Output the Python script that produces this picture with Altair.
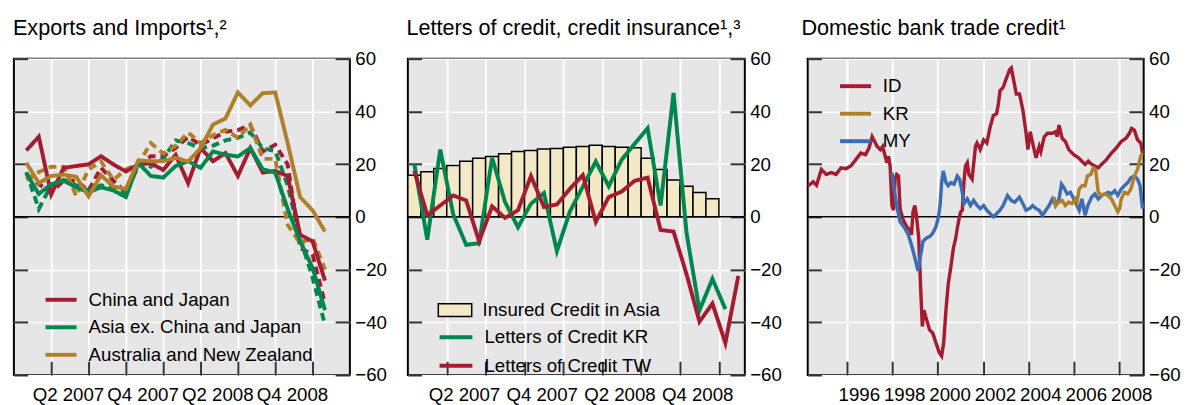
import altair as alt
import pandas as pd

FONT = "Liberation Sans"
RED, GREEN, TAN, BLUE = "#A51C30", "#00874F", "#B07F2A", "#3A6DB4"
BG = "#E6E6E6"
BAR_FILL = "#F3E9C6"
TICK = "#333333"

# ---------------- Panel 1: Exports and Imports ----------------
p1_title = "Exports and Imports¹,²"
p1_months = list(range(1, 26))  # month-end index, 1 = end of Jan 2007
p1_series = ["China and Japan", "Asia ex. China and Japan", "Australia and New Zealand"]
p1_colors = [RED, GREEN, TAN]
p1_flows = ["Imports", "Exports"]
cj_exports = [25.2, 30.4, 8.5, 18.6, 19.3, 19.9, 23.0, 19.9, 17.2, 19.9, 20.3, 17.8, 23.5,
              12.8, 26.1, 21.1, 24.2, 15.5, 26.1, 16.8, 17.4, 15.5, -6.8, -9.3, -24.2]
asia_exports = [16.5, 8.7, 12.4, 13.7, 11.2, 9.3, 11.2, 10.0, 7.5, 20.5, 15.5, 14.9, 19.3,
                21.1, 18.6, 24.8, 23.6, 22.9, 26.1, 18.0, 16.8, 3.0, -9.3, -19.3, -35.4]
anz_exports = [20.5, 12.8, 15.5, 16.0, 15.2, 7.8, 15.8, 11.5, 10.6, 21.4, 21.1, 21.1, 22.4,
               21.0, 26.0, 35.0, 37.3, 47.2, 42.3, 46.9, 47.2, 28.0, 7.5, 2.5, -5.6]
cj_imports = [16.2, 12.4, 9.3, 13.7, 13.7, 10.0, 18.6, 13.7, 9.3, 19.3, 23.0, 23.0, 26.1,
              30.4, 27.3, 29.8, 32.3, 32.9, 34.8, 24.8, 27.3, 19.9, -11.8, -14.3, -33.0]
asia_imports = [17.0, 3.0, 12.0, 14.0, 12.0, 10.0, 12.0, 11.0, 9.0, 21.0, 19.0, 22.0, 29.0,
                28.0, 26.0, 27.0, 29.0, 30.0, 32.0, 26.0, 25.0, 12.0, -8.0, -23.0, -41.0]
anz_imports = [14.0, 17.0, 19.0, 19.0, 8.0, 18.0, 21.0, 14.0, 18.0, 20.0, 28.0, 24.0, 27.0,
               32.0, 28.0, 31.0, 33.0, 30.0, 35.0, 22.0, 22.0, -3.0, -10.0, -8.0, -20.0]

# quarter ticks (months since start of 2007) and their labels
q_tick_values = [3, 6, 9, 12, 15, 18, 21, 24]
q_tick_labels = ["Q2 2007", "", "Q4 2007", "", "Q2 2008", "", "Q4 2008", ""]

# ---------------- Panel 2: Letters of credit ----------------
p2_title = "Letters of credit, credit insurance¹,³"
bar_start_month = list(range(24))
insured_credit = [15.8, 17.1, 18.3, 19.5, 21.1, 22.2, 22.9, 23.9, 24.8, 25.2, 25.7, 25.9,
                  26.4, 26.7, 27.2, 26.7, 26.4, 26.2, 22.2, 18.0, 14.0, 11.6, 9.2, 6.9]
p2_months = [0.5, 1.5, 2.5, 3.5, 4.5, 5.5, 6.5, 7.5, 8.5, 9.5, 10.5, 11.5, 12.5,
             13.5, 14.5, 15.5, 16.5, 17.5, 18.5, 19.5, 20.5, 21.5, 22.5, 23.5, 24.5, 25.5]
lc_kr = [20.0, -8.7, 25.5, 1.0, -10.6, -10.0, 22.4, 5.6, -4.0, 5.0, 9.0, -13.0, 2.0,
         11.5, 21.0, 11.6, 21.7, 27.7, 33.6, 4.3, 47.0, -6.0, -35.5, -23.5, -35.0]
lc_tw = [17.4, 0.6, 4.3, 8.1, 6.2, -9.3, 4.0, -0.4, 2.5, 15.5, 3.7, 4.7, 10.6,
         15.8, -1.9, 7.5, 9.6, 13.7, 14.9, -5.0, -5.6, -21.7, -39.8, -32.9, -47.8, -22.4]
p2_series = ["Letters of Credit KR", "Letters of Credit TW"]
bar_label = "Insured Credit in Asia"

# ---------------- Panel 3: Domestic bank trade credit ----------------
p3_title = "Domestic bank trade credit¹"
p3_series = ["ID", "KR", "MY"]
p3_colors = [RED, TAN, BLUE]
id_year = [1994.30, 1994.51, 1994.66, 1994.87, 1995.09, 1995.31, 1995.52, 1995.74, 1995.96, 1996.17,
           1996.39, 1996.61, 1996.82, 1996.97, 1997.11, 1997.33, 1997.47, 1997.57, 1997.76, 1997.83,
           1997.90, 1997.98, 1998.05, 1998.12, 1998.19, 1998.27, 1998.34, 1998.48, 1998.63, 1998.77,
           1998.84, 1998.91, 1998.99, 1999.06, 1999.16, 1999.25, 1999.32, 1999.39, 1999.49, 1999.64,
           1999.78, 1999.92, 2000.07, 2000.17, 2000.26, 2000.36, 2000.46, 2000.57, 2000.69, 2000.79,
           2000.86, 2000.94, 2001.01, 2001.08, 2001.15, 2001.22, 2001.30, 2001.37, 2001.51, 2001.66,
           2001.73, 2001.87, 2002.02, 2002.16, 2002.31, 2002.45, 2002.59, 2002.67, 2002.74, 2002.88,
           2003.03, 2003.17, 2003.24, 2003.32, 2003.46, 2003.60, 2003.75, 2003.89, 2003.97, 2004.07,
           2004.18, 2004.33, 2004.47, 2004.54, 2004.69, 2004.83, 2005.05, 2005.19, 2005.26, 2005.34,
           2005.48, 2005.62, 2005.77, 2005.99, 2006.20, 2006.35, 2006.49, 2006.63, 2006.78, 2006.92,
           2007.07, 2007.21, 2007.43, 2007.65, 2007.86, 2008.08, 2008.29, 2008.44, 2008.54, 2008.66,
           2008.80, 2008.94, 2009.02]
id_val = [11.8, 13.3, 12.0, 18.0, 16.1, 16.8, 16.1, 18.6, 18.3, 19.3,
          21.7, 24.2, 23.6, 26.1, 30.4, 26.7, 25.5, 26.7, 20.5, 23.0,
          19.3, 4.3, 2.5, 14.3, 16.1, 15.5, 3.0, -1.2, -3.7, -5.0,
          -6.8, 1.9, 4.3, 0.5, -8.0, -27.9, -41.6, -35.4, -38.5, -42.9,
          -44.1, -47.8, -51.6, -52.8, -47.8, -35.4, -25.5, -19.3, -11.8, -8.1,
          -4.3, -0.6, 1.9, 2.5, 13.0, 19.3, 20.5, 16.1, 14.3, 26.7,
          28.0, 25.5, 29.2, 28.0, 34.2, 38.5, 39.1, 42.9, 47.8, 49.1,
          52.8, 55.9, 56.5, 52.8, 46.6, 46.6, 40.4, 31.7, 25.5, 32.3,
          28.0, 22.4, 26.7, 24.8, 30.4, 31.7, 31.7, 32.3, 30.4, 34.8,
          29.8, 28.6, 25.5, 23.6, 22.4, 21.1, 19.9, 21.1, 19.9, 19.3,
          18.6, 19.9, 21.7, 24.2, 26.1, 28.6, 29.8, 31.7, 33.5, 32.9,
          29.2, 28.0, 24.2]
my_year = [1997.98, 1998.08, 1998.19, 1998.34, 1998.55, 1998.70, 1998.84, 1998.99, 1999.13, 1999.25,
           1999.35, 1999.49, 1999.64, 1999.78, 1999.92, 2000.03, 2000.10, 2000.17, 2000.24, 2000.36,
           2000.46, 2000.57, 2000.72, 2000.86, 2000.96, 2001.08, 2001.15, 2001.30, 2001.44, 2001.58,
           2001.73, 2001.87, 2002.02, 2002.16, 2002.31, 2002.45, 2002.59, 2002.74, 2002.88, 2003.07,
           2003.24, 2003.39, 2003.60, 2003.75, 2003.89, 2004.04, 2004.18, 2004.33, 2004.47, 2004.61,
           2004.76, 2004.90, 2005.05, 2005.19, 2005.34, 2005.45, 2005.55, 2005.70, 2005.84, 2005.99,
           2006.13, 2006.23, 2006.35, 2006.49, 2006.61, 2006.78, 2006.92, 2007.07, 2007.21, 2007.36,
           2007.50, 2007.65, 2007.79, 2007.93, 2008.08, 2008.22, 2008.37, 2008.51, 2008.66, 2008.80,
           2008.91, 2009.02]
my_val = [16.8, 10.6, 4.3, -1.9, -4.3, -6.8, -10.6, -15.5, -20.5, -14.3,
          -9.3, -8.1, -7.5, -6.2, -3.7, 0.0, 4.3, 13.0, 17.4, 13.0,
          11.8, 13.0, 12.4, 15.5, 14.3, 9.3, 5.0, 6.8, 4.3, 6.2,
          4.3, 3.1, 4.3, 2.5, 1.2, 0.0, 1.2, 2.5, 4.3, 8.1,
          6.2, 5.6, 7.5, 5.0, 2.5, 3.1, 4.3, 3.1, 2.5, 0.6,
          2.5, 4.3, 6.8, 4.3, 6.8, 12.4, 11.2, 8.7, 9.3, 6.8,
          4.3, 2.5, 6.8, 0.6, 4.3, 7.5, 8.7, 6.8, 8.1, 8.7,
          9.3, 8.7, 9.9, 8.1, 10.6, 11.8, 13.0, 14.9, 15.5, 14.3,
          11.8, 3.1]
kr_year = [2005.12, 2005.19, 2005.34, 2005.48, 2005.62, 2005.77, 2005.91, 2006.06, 2006.13, 2006.23,
           2006.35, 2006.49, 2006.59, 2006.74, 2006.85, 2006.95, 2007.07, 2007.21, 2007.36, 2007.50,
           2007.65, 2007.79, 2007.93, 2008.01, 2008.08, 2008.22, 2008.37, 2008.51, 2008.66, 2008.80,
           2008.94, 2009.02]
kr_val = [7.5, 4.3, 5.6, 6.2, 4.3, 5.6, 5.0, 6.8, 5.6, 10.6,
          11.8, 11.8, 15.5, 16.1, 18.6, 18.0, 9.3, 8.1, 8.7, 8.1,
          6.8, 4.3, 1.9, 3.1, 6.8, 9.3, 8.7, 10.6, 15.5, 18.0,
          23.0, 24.2]
year_ticks = [1996, 1998, 2000, 2002, 2004, 2006, 2008]

Y_VALUES = [-60, -40, -20, 0, 20, 40, 60]


def y_scale():
    return alt.Scale(domain=[-60, 60], nice=False, zero=False)


def left_axis():
    return alt.Axis(orient="left", values=Y_VALUES, offset=-14, tickSize=14, tickWidth=2,
                    tickColor=TICK, labels=False, domain=False, grid=True,
                    gridColor="white", gridWidth=1.5, title=None)


def right_axis():
    return alt.Axis(orient="right", values=Y_VALUES, offset=-15, tickSize=15, tickWidth=2,
                    tickColor=TICK, labelPadding=5, labelFontSize=19, labelFont=FONT,
                    labelColor="black", labelFlush=False, labelOverlap=False,
                    domain=False, grid=False, title=None)


def x_axis(values, label_offset, labels=None, fmt=None):
    kw = dict(values=values, offset=-14, tickSize=14, tickWidth=2, tickColor=TICK,
              domain=False, grid=True, gridColor="white", gridWidth=2,
              labelOffset=label_offset, labelPadding=11, labelFontSize=19, labelFont=FONT,
              labelColor="black", labelOverlap=False, labelFlush=False, title=None)
    if labels is not None:
        expr = "''"
        for v, lab in reversed(list(zip(values, labels))):
            expr = f"datum.value == {v} ? '{lab}' : ({expr})"
        kw["labelExpr"] = expr
    if fmt is not None:
        kw["format"] = fmt
    return alt.Axis(**kw)


def zero_layer():
    return alt.Chart(pd.DataFrame({"v": [0]})).mark_rule(color="black", strokeWidth=1.5).encode(
        y=alt.Y("v:Q", scale=y_scale(), axis=left_axis())
    )


def title(t):
    return alt.TitleParams(t, anchor="start", fontSize=22, font=FONT, fontWeight="normal",
                           color="black", offset=10)


def line_legend(x, y, size, label_offset, row_pad):
    return alt.Legend(orient="none", legendX=x, legendY=y, title=None, symbolType="stroke",
                      symbolSize=size, symbolStrokeWidth=4, labelFontSize=19, labelFont=FONT,
                      labelColor="black", labelOffset=label_offset, rowPadding=row_pad,
                      padding=0, labelLimit=0)


# ---------- build panel 1 ----------
rows = []
for flow in p1_flows:
    for name, ex, im in zip(p1_series, [cj_exports, asia_exports, anz_exports],
                            [cj_imports, asia_imports, anz_imports]):
        vals = ex if flow == "Exports" else im
        for m, v in zip(p1_months, vals):
            rows.append({"month": m, "value": v, "series": name, "flow": flow})
df_p1 = pd.DataFrame(rows)

p1_lines = alt.Chart(df_p1).mark_line(strokeWidth=4).encode(
    x=alt.X("month:Q", scale=alt.Scale(domain=[0, 27], nice=False, zero=False),
            axis=x_axis(q_tick_values, 17, q_tick_labels)),
    y=alt.Y("value:Q", scale=y_scale(), axis=right_axis()),
    color=alt.Color("series:N", scale=alt.Scale(domain=p1_series, range=p1_colors),
                    legend=line_legend(30, 227.4, 1000, 10, -2)),
    strokeDash=alt.StrokeDash("flow:N", scale=alt.Scale(domain=p1_flows, range=[[8, 5], [1, 0]]),
                              legend=None),
)
panel1 = alt.layer(zero_layer(), p1_lines).resolve_axis(y="independent").properties(
    width=342, height=322, title=title(p1_title))

# ---------- build panel 2 ----------
df_bar = pd.DataFrame({"start": bar_start_month, "value": insured_credit, "label": bar_label})
lc_rows = []
for name, vals in zip(p2_series, [lc_kr, lc_tw]):
    for m, v in zip(p2_months, vals):
        lc_rows.append({"month": m, "value": v, "series": name})
df_lc = pd.DataFrame(lc_rows)

x2_axis = x_axis(q_tick_values, 17.5, q_tick_labels)
x2_scale = alt.Scale(domain=[0, 26], nice=False, zero=False)

bars = alt.Chart(df_bar).transform_calculate(end="datum.start + 1").mark_bar(
    stroke="black", strokeWidth=1.5).encode(
    x=alt.X("start:Q", scale=x2_scale, axis=x2_axis),
    x2="end:Q",
    y=alt.Y("value:Q", scale=y_scale(), axis=right_axis(), stack=None),
    y2=alt.datum(0),
    fill=alt.Fill("label:N", scale=alt.Scale(domain=[bar_label], range=[BAR_FILL]),
                  legend=alt.Legend(orient="none", legendX=30, legendY=238, title=None,
                                    symbolType="M-1,-0.38H1V0.38H-1Z", symbolSize=1156,
                                    symbolStrokeColor="black", symbolStrokeWidth=1.5,
                                    symbolFillColor=BAR_FILL, symbolOpacity=1,
                                    labelFontSize=19, labelFont=FONT, labelColor="black",
                                    labelOffset=10, padding=0, labelLimit=0)),
)
lc_lines = alt.Chart(df_lc).mark_line(strokeWidth=4).encode(
    x=alt.X("month:Q", scale=x2_scale, axis=x2_axis),
    y=alt.Y("value:Q", scale=y_scale(), axis=None),
    color=alt.Color("series:N", scale=alt.Scale(domain=p2_series, range=[GREEN, RED]),
                    legend=line_legend(30, 264.5, 1116, 10, -1.5)),
)
panel2 = alt.layer(zero_layer(), bars, lc_lines).resolve_axis(y="independent").properties(
    width=343, height=322, title=title(p2_title))

# ---------- build panel 3 ----------
p3_x_scale = alt.Scale(domain=[1994.27, 2009.07], nice=False, zero=False)
p3_x_axis = x_axis(year_ticks, 12, fmt="d")
p3_layers = []
first = True
for name, yrs, vals in [("ID", id_year, id_val), ("MY", my_year, my_val), ("KR", kr_year, kr_val)]:
    d = pd.DataFrame({"year": yrs, "value": vals, "series": name})
    p3_layers.append(alt.Chart(d).mark_line(strokeWidth=3.5).encode(
        x=alt.X("year:Q", scale=p3_x_scale, axis=p3_x_axis),
        y=alt.Y("value:Q", scale=y_scale(), axis=right_axis() if first else None),
        color=alt.Color("series:N", scale=alt.Scale(domain=p3_series, range=p3_colors),
                        legend=line_legend(30.7, 10, 1000, 9.7, -1.5)),
    ))
    first = False
panel3 = alt.layer(zero_layer(), *p3_layers).resolve_axis(y="independent").properties(
    width=342, height=322, title=title(p3_title))

chart = alt.hconcat(panel1, panel2, panel3, spacing=17).resolve_scale(
    color="independent", fill="independent", strokeDash="independent", x="independent", y="independent"
).resolve_legend(color="independent", fill="independent", strokeDash="independent").properties(
    padding={"left": 4, "top": 5, "right": 0, "bottom": 0}
).configure(font=FONT).configure_view(fill=BG, stroke="black", strokeWidth=2)

chart.save("out.html", embed_options={"renderer": "svg", "actions": False})
